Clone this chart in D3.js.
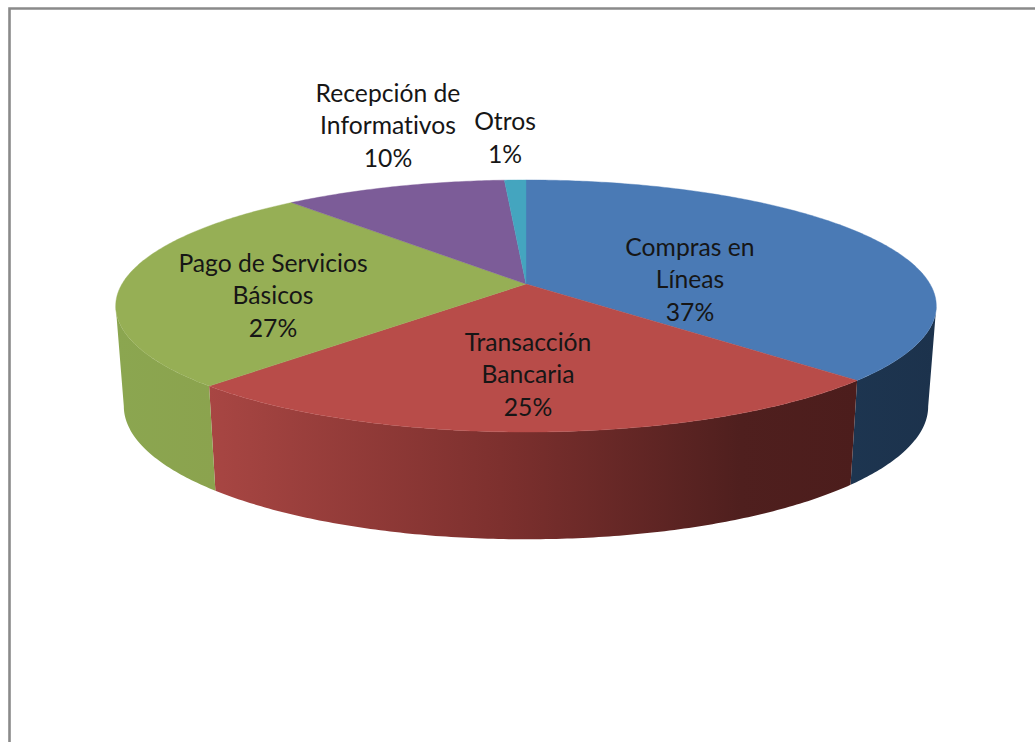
<!DOCTYPE html>
<html><head><meta charset="utf-8">
<script src="https://cdn.jsdelivr.net/npm/d3@7"></script>
<style>html,body{margin:0;padding:0;background:#fff;overflow:hidden}svg{display:block}</style>
</head><body><svg id="c" width="1035" height="742"></svg>
<script>
const categories = ["Compras en Líneas","Transacción Bancaria","Pago de Servicios Básicos","Recepción de Informativos","Otros"];
const values = [37.2,24.8,26.6,10.4,1];
const labelLines = [["Compras en","Líneas","37%"],["Transacción","Bancaria","25%"],["Pago de Servicios","Básicos","27%"],["Recepción de","Informativos","10%"],["Otros","1%"]];
const labelAnchors = [[690,247.5],[528,342.5],[273,263.5],[388,93.5],[505,122]];
const topColors = ["#4a7ab5","#b84c49","#96af55","#7c5c98","#44a5bf"];

const svg = d3.select("#c");
const defs = svg.append("defs");
svg.append("path").attr("d","M9.5 760V8.5H1040").attr("fill","none").attr("stroke","#8a8a8a").attr("stroke-width",2.6);

// perspective projections of the top and bottom rims
const k = -0.1746;
const rim = (cy,A,B) => a => {
  const u = Math.sin(a), v = -Math.cos(a), d = 1 + k*v;
  return [526 + B*u/d, cy + A*v/d];
};
const topRim = rim(284,122.2,404), botRim = rim(383,129,396);

const arcs = d3.pie().sort(null).value(d=>d)(values);
const line = d3.line();
const samples = (a0,a1) => { const n = Math.max(2,Math.ceil((a1-a0)*90)); return d3.range(n+1).map(i=>a0+(a1-a0)*i/n); };

// side walls: visible part of the rim, from one silhouette tangent to the other
const tL = Math.acos(k), tR = 2*Math.PI - tL;
const wallColors = {
  0:[["0%","#1d3550"],["100%","#1c324c"]],
  1:[["0%","#a84643"],["45%","#7d302e"],["82%","#4f1f1e"],["100%","#4c1d1c"]],
  2:[["0%","#8ba650"],["100%","#8ba34e"]]
};
arcs.forEach((d,i)=>{
  const a0 = Math.max(d.startAngle,tL), a1 = Math.min(d.endAngle,tR);
  if (a0>=a1) return;
  const s = samples(a0,a1);
  const pts = s.map(topRim).concat(s.slice().reverse().map(botRim));
  const ext = d3.extent(pts,p=>p[0]);
  const g = defs.append("linearGradient").attr("id","w"+i).attr("gradientUnits","userSpaceOnUse")
    .attr("x1",ext[0]).attr("x2",ext[1]).attr("y1",0).attr("y2",0);
  (wallColors[i]||[["0%",topColors[i]],["100%",topColors[i]]]).forEach(c=>g.append("stop").attr("offset",c[0]).attr("stop-color",c[1]));
  svg.append("path").attr("d",line(pts)+"Z").attr("fill","url(#w"+i+")");
});

// top faces
arcs.forEach((d,i)=>{
  const pts = [[526,284]].concat(samples(d.startAngle,d.endAngle).map(topRim));
  svg.append("path").attr("d",line(pts)+"Z").attr("fill",topColors[i]).attr("stroke",topColors[i]).attr("stroke-width",0.4);
});

// labels
labelLines.forEach((ls,i)=>{
  const t = svg.append("text").attr("text-anchor","middle").style("font-variant-ligatures","none")
    .attr("font-family","Lato, 'Open Sans', sans-serif").attr("font-size",24.7).attr("fill","#161616");
  ls.forEach((s,j)=>t.append("tspan").attr("x",labelAnchors[i][0]).attr("y",labelAnchors[i][1]+8+j*32.5).text(s));
});
</script></body></html>
